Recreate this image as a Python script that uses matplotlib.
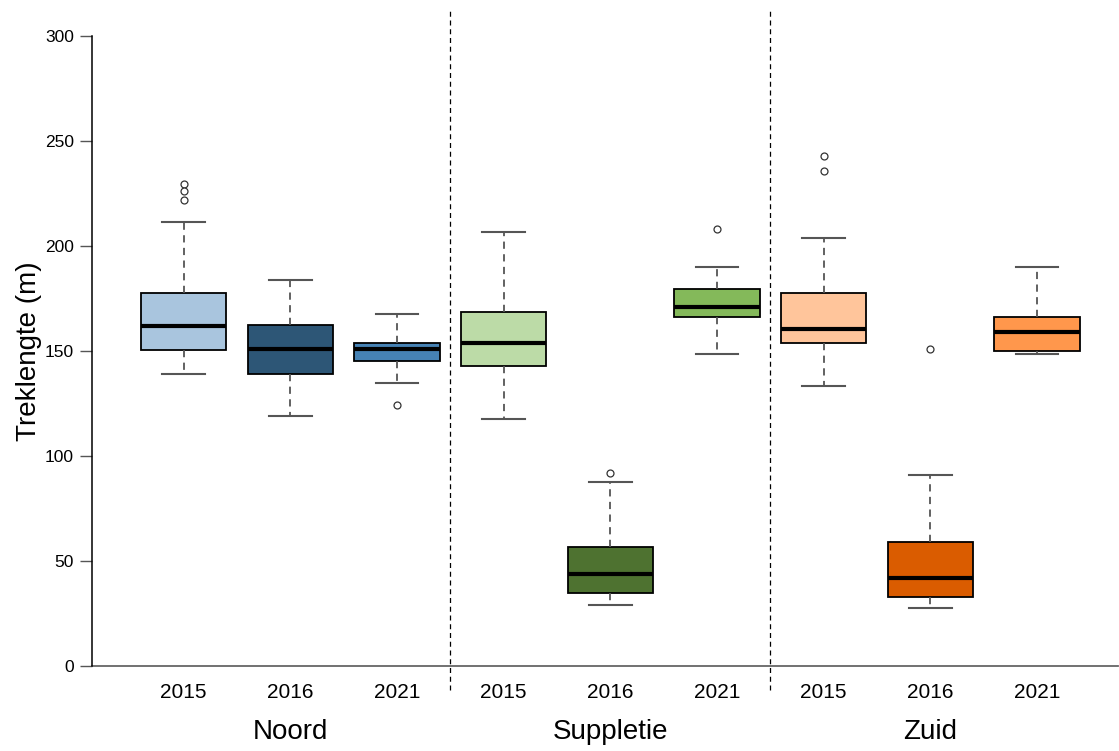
import numpy as np
import matplotlib.pyplot as plt
import matplotlib.transforms as mtransforms

plt.rcParams['font.family'] = ['Liberation Sans', 'DejaVu Sans']

# data (Treklengte in m)
groups = ['Noord', 'Suppletie', 'Zuid']
years = ['2015', '2016', '2021']
colors = ['#A9C5DE', '#2D5676', '#4682B4',
          '#BCDBA7', '#4E7230', '#84B95A',
          '#FFC59B', '#DA5C00', '#FF974C']

whislo = [139.2, 118.9, 134.8, 117.6, 29.2, 148.4, 133.5, 27.8, 148.6]
q1 = [150.5, 139.2, 145.4, 142.9, 34.8, 166.0, 153.6, 32.7, 149.8]
med = [162.0, 151.1, 151.1, 153.6, 43.6, 171.0, 160.3, 42.0, 159.0]
q3 = [177.5, 162.2, 154.0, 168.7, 56.8, 179.7, 177.8, 59.2, 166.3]
whishi = [211.4, 183.7, 167.8, 206.8, 87.8, 190.2, 204.0, 90.8, 190.2]
fliers = [[229.5, 226.3, 221.9], [], [124.1],
          [], [92.1], [208.2],
          [243.0, 235.6], [151.0], []]

stats = []
for i in range(len(med)):
    stats.append(dict(whislo=whislo[i], q1=q1[i], med=med[i], q3=q3[i],
                      whishi=whishi[i], fliers=fliers[i]))

fig = plt.figure(figsize=(11.19, 7.51), dpi=100)
ax = fig.add_axes([92 / 1119, 85 / 751, 1026 / 1119, 630 / 751])

pos = np.arange(1, len(med) + 1)
bp = ax.bxp(stats, positions=pos, widths=0.8, patch_artist=True,
            capwidths=0.4,
            boxprops=dict(edgecolor='black', linewidth=1.3),
            medianprops=dict(color='black', linewidth=3),
            whiskerprops=dict(color='#555555', linewidth=1.3,
                              linestyle=(0, (4, 3))),
            capprops=dict(color='#555555', linewidth=1.5),
            flierprops=dict(marker='o', markersize=5, markerfacecolor='white',
                            markeredgecolor='#333333', markeredgewidth=0.9))
for patch, c in zip(bp['boxes'], colors):
    patch.set_facecolor(c)

ax.set_xlim(0.14, 9.76)
ax.set_ylim(0, 300)
ax.set_yticks(np.arange(0, 301, 50))
ax.tick_params(axis='y', labelsize=12.5, length=9, width=1, color='#555555',
               pad=4)
ax.set_xticks(pos)
ax.set_xticklabels(years * 3)
ax.tick_params(axis='x', length=0, labelsize=15, pad=12)

for s in ['top', 'right', 'bottom']:
    ax.spines[s].set_visible(False)
ax.spines['left'].set_linewidth(1.1)
ax.axhline(0, color='#666666', linewidth=1.3, clip_on=False)

# group separators
for x in [3.5, 6.5]:
    ax.plot([x, x], [-11.5, 312.5], color='black', linewidth=0.9,
            linestyle=(0, (4, 3)), clip_on=False)

trans = mtransforms.blended_transform_factory(ax.transData, ax.transAxes)
for i, g in enumerate(groups):
    ax.text(3 * i + 2, -0.105, g, transform=trans, ha='center', va='center',
            fontsize=20)

ax.set_ylabel('Treklengte (m)', fontsize=20, labelpad=2)

fig.savefig('out.png', dpi=100)
